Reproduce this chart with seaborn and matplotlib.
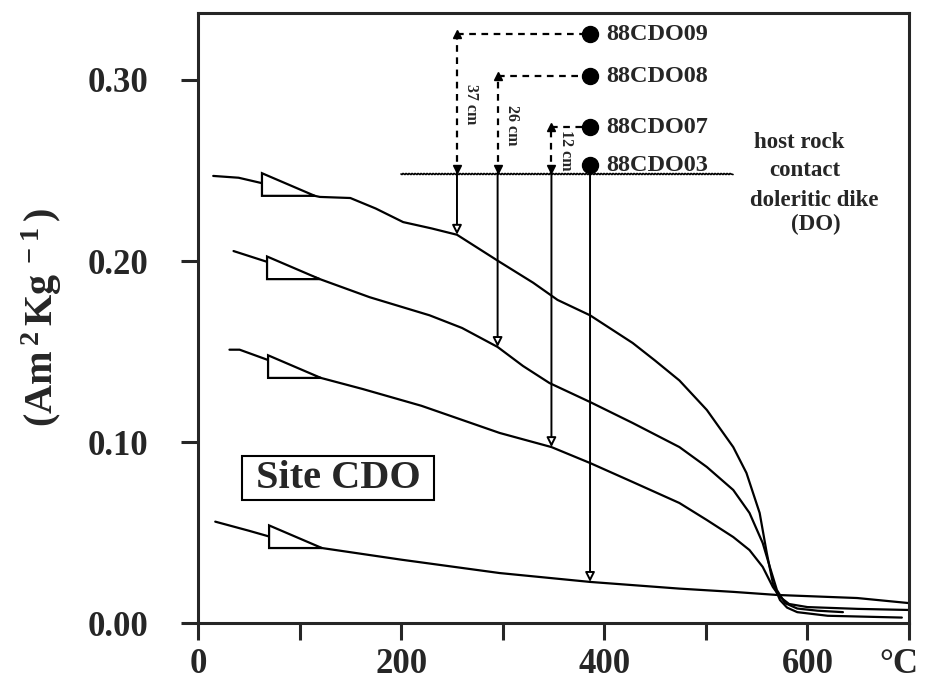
import numpy as np
import pandas as pd
import matplotlib
matplotlib.use("Agg")
import matplotlib.pyplot as plt
import matplotlib.transforms as mtransforms
import seaborn as sns
from matplotlib.patches import Polygon

# ------------------------------
# Data
# ------------------------------
samples = ["88CDO09", "88CDO08", "88CDO07", "88CDO03"]

t_09 = [15, 40, 63, 90, 120, 150, 175, 202, 230, 255, 297, 330, 354, 386, 428, 450, 474, 501, 527, 540, 553, 560, 566, 573, 580, 590, 620, 693]
m_09 = [0.247, 0.246, 0.243, 0.239, 0.2354, 0.2348, 0.229, 0.2215, 0.218, 0.2145, 0.1995, 0.188, 0.1785, 0.170, 0.1547, 0.145, 0.134, 0.1177, 0.0972, 0.0829, 0.0608, 0.0387, 0.022, 0.0127, 0.0085, 0.006, 0.004, 0.003]

t_08 = [35, 71, 117, 169, 228, 260, 295, 320, 346, 386, 428, 474, 501, 527, 543, 556, 563, 570, 578, 590, 610, 635]
m_08 = [0.2055, 0.199, 0.1906, 0.180, 0.170, 0.163, 0.1525, 0.142, 0.1326, 0.1221, 0.1105, 0.0972, 0.0862, 0.0735, 0.0608, 0.0442, 0.031, 0.0182, 0.011, 0.008, 0.0068, 0.006]

t_07 = [31, 41, 69, 117, 162, 220, 297, 348, 386, 428, 474, 501, 527, 543, 556, 566, 573, 582, 600, 650, 700]
m_07 = [0.151, 0.151, 0.1453, 0.136, 0.1293, 0.120, 0.105, 0.0972, 0.0884, 0.0779, 0.0663, 0.0569, 0.0475, 0.0403, 0.031, 0.0199, 0.0144, 0.0105, 0.0088, 0.0078, 0.0072]

t_03 = [17, 50, 75, 115, 200, 297, 386, 474, 527, 570, 649, 700]
m_03 = [0.056, 0.051, 0.047, 0.042, 0.035, 0.0276, 0.0227, 0.0190, 0.0172, 0.0155, 0.0138, 0.011]

curves = {"88CDO09": (t_09, m_09), "88CDO08": (t_08, m_08),
          "88CDO07": (t_07, m_07), "88CDO03": (t_03, m_03)}

# sampling positions (distance from the dike contact)
arrow_t = [255, 295, 348, 386]          # temperature where each arrow hits its curve
dot_m = [0.3254, 0.302, 0.274, 0.253]   # height of each sample dot
distances = ["37 cm", "26 cm", "12 cm", None]
contact_m = 0.248
contact_t = [200, 527]
dot_t = 386
triangle_t = [63, 68, 69, 70]           # left edge of the heating-direction triangles

x_ticks = [0, 100, 200, 300, 400, 500, 600, 700]
x_labels = ["0", "", "200", "", "400", "", "600", "°C"]
y_ticks = [0.0, 0.1, 0.2, 0.3]
y_labels = ["0.00", "0.10", "0.20", "0.30"]

df = pd.concat([pd.DataFrame({"T": t, "M": m, "sample": s}) for s, (t, m) in curves.items()],
               ignore_index=True)

# ------------------------------
# Style
# ------------------------------
sns.set_style("ticks")
plt.rcParams["font.family"] = ["Liberation Serif", "DejaVu Serif"]
plt.rcParams["font.weight"] = "bold"
plt.rcParams["mathtext.fontset"] = "custom"
plt.rcParams["mathtext.rm"] = "Liberation Serif:bold"
plt.rcParams["mathtext.default"] = "rm"

fig = plt.figure(figsize=(9.26, 6.82), dpi=100)
ax = fig.add_axes([0.2138, 0.0865, 0.7678, 0.8944])

sns.lineplot(data=df, x="T", y="M", units="sample", estimator=None, sort=False,
             color="black", lw=1.6, ax=ax, legend=False)

# heating-direction triangles on each curve
for s, t0 in zip(samples, triangle_t):
    t, m = curves[s]
    y_r = np.interp(t0 + 52, t, m)
    tri = Polygon([(t0, y_r), (t0, y_r + 0.0125), (t0 + 52, y_r)], closed=True,
                  facecolor="white", edgecolor="black", lw=1.6, zorder=5)
    ax.add_patch(tri)

# contact line
contact_line, = ax.plot(contact_t, [contact_m, contact_m], color="black", lw=1.2, zorder=4)
contact_line.set_sketch_params(0.6, 3, 1)

for s, ta, dm, dist in zip(samples, arrow_t, dot_m, distances):
    t, m = curves[s]
    hit = np.interp(ta, t, m)
    start = contact_m if dist is not None else dm
    ax.annotate("", xy=(ta, hit), xytext=(ta, start),
                arrowprops=dict(arrowstyle="-|>", fc="white", ec="black", lw=1.4,
                                mutation_scale=14, shrinkA=0, shrinkB=0), zorder=6)
    if dist is not None:
        ax.plot([ta, ta], [contact_m, dm], ls=(0, (3, 2.5)), color="black", lw=1.6)
        ax.plot([ta], [dm], marker="^", ms=6, color="black")
        ax.plot([ta], [contact_m + 0.003], marker="v", ms=6, color="black")
        ax.plot([ta, dot_t], [dm, dm], ls=(0, (3, 2.5)), color="black", lw=1.6)
        ax.text(ta + 6, (contact_m + dm) / 2, dist, rotation=-90, fontsize=11.5,
                fontweight="bold", ha="left", va="center")
    ax.plot([dot_t], [dm], marker="o", ms=11.5, color="black", zorder=7)
    ax.text(dot_t + 16, dm, s, fontsize=17.5, fontweight="bold", ha="left", va="center")

ax.text(592, 0.2655, "host rock", fontsize=16.5, fontweight="bold", ha="center", va="center")
ax.text(597, 0.250, "contact", fontsize=16.5, fontweight="bold", ha="center", va="center")
ax.text(607, 0.2337, "doleritic dike", fontsize=16.5, fontweight="bold", ha="center", va="center")
ax.text(608, 0.2204, "(DO)", fontsize=16.5, fontweight="bold", ha="center", va="center")

ax.text(138, 0.080, " Site CDO ", fontsize=29, fontweight="bold", ha="center", va="center",
        bbox=dict(boxstyle="square,pad=0.08", fc="white", ec="black", lw=1.5))

ax.set_xlim(0, 700)
ax.set_ylim(0, 0.337)
ax.set_xticks(x_ticks)
ax.set_xticklabels(x_labels)
ax.set_yticks(y_ticks)
ax.set_yticklabels(y_labels)
ax.set_xlabel("")
ax.set_ylabel("")
ax.tick_params(axis="both", direction="out", length=12, width=2.2, labelsize=25)
ax.tick_params(axis="x", pad=6)
ax.tick_params(axis="y", pad=24)
for lab in ax.get_xticklabels() + ax.get_yticklabels():
    lab.set_fontweight("bold")
# pull the unit label at 700 slightly inside the figure
unit_lab = ax.get_xticklabels()[-1]
unit_lab.set_transform(unit_lab.get_transform()
                       + mtransforms.ScaledTranslation(-7 / 72, 0, fig.dpi_scale_trans))
for sp in ax.spines.values():
    sp.set_visible(True)
    sp.set_linewidth(2.2)

fig.text(0.045, 0.535, r"(Am$^{\,2\,}$Kg$^{\,-1\,}$)", rotation=90, fontsize=29,
         fontweight="bold", ha="center", va="center")

fig.savefig("out.png", dpi=100)
